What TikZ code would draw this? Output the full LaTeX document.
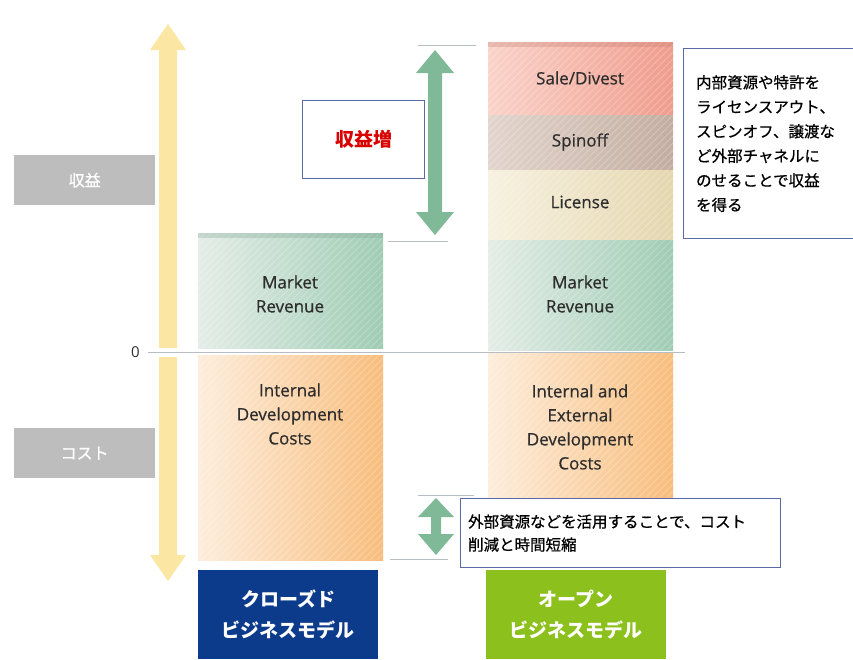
\documentclass[tikz,border=0pt]{standalone}
\usepackage{fontspec}
\setmainfont{Open Sans}
\newfontfamily\lblfont[FakeBold=0.7]{Open Sans}
\newfontfamily\jp{Noto Sans CJK JP}
\newfontfamily\jpb[FakeBold=0.6]{Noto Sans CJK JP}
\definecolor{txt}{HTML}{2E2E2E}
\definecolor{yel}{HTML}{FBE6A4}
\definecolor{garrow}{HTML}{80B998}
\definecolor{navy}{HTML}{0D3B8C}
\definecolor{lime}{HTML}{8CC01C}
\definecolor{grayb}{HTML}{BDBDBD}
\definecolor{frame}{HTML}{5A6AA8}
\definecolor{thin}{HTML}{B8BCC4}
\definecolor{gL}{HTML}{E4EDE7}
\definecolor{gR}{HTML}{9FCCB4}
\definecolor{oL}{HTML}{FDEDDC}
\definecolor{oR}{HTML}{F8BD7C}
\definecolor{rL}{HTML}{FAD3C9}
\definecolor{rR}{HTML}{F09C8C}
\definecolor{bL}{HTML}{E2D5CC}
\definecolor{bR}{HTML}{C3ADA1}
\definecolor{yL}{HTML}{F7F1E0}
\definecolor{yR}{HTML}{E4D6AE}
\tikzset{
  blk/.style={rectangle, anchor=north west, inner sep=0pt},
  lbl/.style={align=center, text=txt, inner sep=0pt, font=\lblfont\fontsize{17}{24}\selectfont},
  graylab/.style={rectangle, anchor=north west, inner sep=0pt, fill=grayb, text=white,
    font=\jpb\fontsize{16}{20}\selectfont, minimum width=141pt, minimum height=50pt},
  note/.style={rectangle, anchor=north west, draw=frame, line width=1.2pt, fill=white,
    inner sep=0pt, text=black},
  model/.style={rectangle, anchor=north west, inner sep=0pt, text=white, align=center,
    font=\jp\bfseries\fontsize{19}{31}\selectfont, minimum width=180pt, minimum height=89pt},
  thinline/.style={draw=thin, line width=1pt},
  hatch/.style={draw=white, line width=0.8pt, opacity=0.25},
}
\newcommand{\hatchbox}[4]{%
  \begin{scope}
  \clip (#1,#2) rectangle (#3,#4);
  \foreach \i in {-220,-213,...,420} {\draw[hatch] (#1+\i,#4) -- ++(220,-220);}
  \end{scope}}
\begin{document}
\begin{tikzpicture}[x=1pt,y=-1pt]
\useasboundingbox (0,0) rectangle (853,659);
\fill[white] (0,0) rectangle (853,659);

% yellow axis arrow
\fill[yel] (168,24) -- (186,50) -- (177,50) -- (177,555) -- (186,555) -- (168,581)
  -- (150,555) -- (159,555) -- (159,50) -- (150,50) -- cycle;
\fill[white] (148,348) rectangle (190,357);

% gray side labels
\node[graylab] (rev) at (14,155) {収益};
\node[graylab] (cost) at (14,428) {コスト};

% zero line
\node[text=txt, font=\fontsize{15}{18}\selectfont, anchor=east, inner sep=0pt] (zero) at (140,352) {0};
\coordinate (zr) at (685,352);
\draw[thinline] ([xshift=8pt]zero.east) -- (zr);

% closed model blocks
\node[blk, left color=gL, right color=gR, minimum width=185pt, minimum height=115pt] (cmr) at (198,233) {};
\node[blk, left color=oL, right color=oR, minimum width=185pt, minimum height=205pt] (cdc) at (198,355) {};
% open model blocks
\node[blk, left color=rL, right color=rR, minimum width=185pt, minimum height=73pt] (sd) at (488,42) {};
\node[blk, left color=bL, right color=bR, minimum width=185pt, minimum height=55pt] (sp) at (488,115) {};
\node[blk, left color=yL, right color=yR, minimum width=185pt, minimum height=70pt] (lic) at (488,170) {};
\node[blk, left color=gL, right color=gR, minimum width=185pt, minimum height=110pt] (omr) at (488,240) {};
\node[blk, left color=oL, right color=oR, minimum width=185pt, minimum height=144pt] (odc) at (488,353) {};

\hatchbox{198}{233}{383}{348}
\hatchbox{198}{355}{383}{560}
\hatchbox{488}{42}{673}{240}
\hatchbox{488}{240}{673}{350}
\hatchbox{488}{353}{673}{497}
\fill[gR!80!black, opacity=0.3] (198,233) rectangle (383,238);
\fill[rR!80!black, opacity=0.3] (488,42) rectangle (673,47);

% block labels
\node[lbl] (t1) at (290,294) {Market\\Revenue};
\node[lbl] (t2) at (290,414) {Internal\\Development\\Costs};
\node[lbl] (t3) at (580,78) {Sale/Divest};
\node[lbl] (t4) at (580,142) {Spinoff};
\node[lbl] (t5) at (580,202) {License};
\node[lbl] (t6) at (580,294) {Market\\Revenue};
\node[lbl] (t7) at (580,427) {Internal and\\External\\Development\\Costs};

% thin guide lines
\draw[thinline] (418,45) -- (476,45);
\draw[thinline] (388,241) -- (448,241);
\draw[thinline] (418,495) -- (474,495);
\draw[thinline] (390,559) -- (448,559);

% green arrows
\fill[garrow] (435,50) -- (454,73) -- (442,73) -- (442,212) -- (454,212) -- (435,235)
  -- (416,212) -- (428,212) -- (428,73) -- (416,73) -- cycle;
\fill[garrow] (436,498) -- (454,517) -- (441,517) -- (441,534) -- (454,534) -- (436,555)
  -- (418,534) -- (431,534) -- (431,517) -- (418,517) -- cycle;

% notes
\node[note, minimum width=122pt, minimum height=78pt, text=red!85!black,
  font=\jp\bfseries\fontsize{19}{22}\selectfont] (inc) at (302,100) {収益増};
\node[note, minimum width=175pt, minimum height=190pt, align=left,
  font=\jpb\fontsize{15.5}{24.5}\selectfont] (rnote) at (683,48)
  {\begin{minipage}[c][190pt][c]{150pt}\raggedright
   内部資源や特許を\\ライセンスアウト、\\スピンオフ、譲渡な\\ど外部チャネルに\\のせることで収益\\を得る\\[6pt]\end{minipage}};
\node[note, minimum width=320pt, minimum height=69pt, align=left,
  font=\jpb\fontsize{15.5}{23}\selectfont] (bnote) at (460,498)
  {\begin{minipage}[c][69pt][c]{305pt}
   外部資源などを活用することで、コスト\\削減と時間短縮\end{minipage}};

% model labels
\node[model, fill=navy] (closed) at (198,570) {クローズド\\ビジネスモデル};
\node[model, fill=lime] (open) at (486,570) {オープン\\ビジネスモデル};
\end{tikzpicture}
\end{document}
